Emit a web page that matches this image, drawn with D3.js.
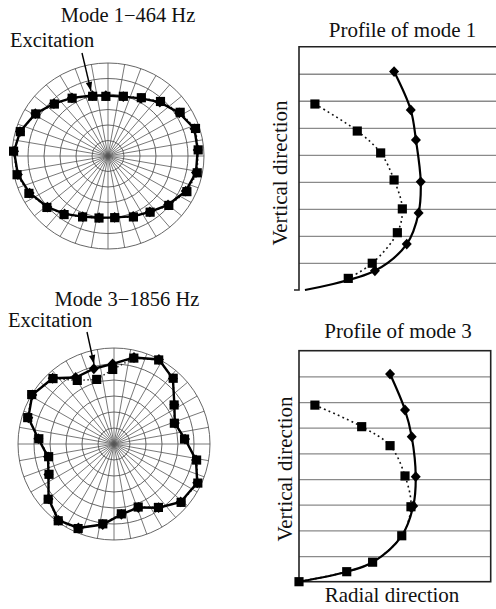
<!DOCTYPE html>
<html>
<head>
<meta charset="utf-8">
<script src="https://cdn.jsdelivr.net/npm/d3@7"></script>
<style>
  html, body { margin: 0; padding: 0; background: #fff; }
  svg { display: block; }
  text { font-family: "Liberation Serif", "Times New Roman", serif; fill: #111; }
</style>
</head>
<body>
<svg id="chart" width="496" height="609"></svg>
<script>
// ---- Ring shapes (angle in degrees, counter-clockwise from +x; radius in grid rings) ----
const mode1Angles   = [104, 92, 76, 61, 47, 32, 18, 4, -11, -25, -40, -54, -68, -84, -98, -112, -126, -139, -154, -168, 177, 164, 149, 135, 121];
const mode1Measured = [3.97, 3.85, 3.97, 4.30, 4.81, 5.32, 5.75, 5.65, 5.68, 5.44, 4.96, 4.48, 4.24, 4.00, 4.04, 4.24, 4.67, 5.06, 5.50, 5.81, 5.91, 5.70, 5.27, 4.74, 4.35];
const mode1Computed = [4.02, 3.90, 3.95, 4.25, 4.75, 5.25, 5.68, 5.62, 5.60, 5.36, 4.90, 4.45, 4.20, 3.98, 4.02, 4.22, 4.62, 5.02, 5.45, 5.76, 5.88, 5.72, 5.30, 4.78, 4.38];

const mode3Angles   = [105, 91, 77, 62, 48, 33, 19, 4, -11, -25, -41, -55, -69, -84, -98, -113, -126, -140, -155, -169, 176, 163, 149, 133, 120];
const mode3Measured = [4.18, 4.66, 5.51, 5.95, 5.53, 4.48, 3.99, 4.42, 5.26, 5.78, 5.56, 4.84, 4.22, 4.39, 5.04, 5.74, 5.93, 5.37, 4.48, 4.16, 4.71, 5.64, 6.00, 5.59, 4.59];
const mode3Computed = [4.87, 5.01, 5.55, 5.98, 5.50, 4.50, 4.02, 4.45, 5.22, 5.74, 5.52, 4.86, 4.25, 4.42, 5.08, 5.70, 5.90, 5.34, 4.52, 4.20, 4.74, 5.60, 5.96, 5.62, 4.80];

// ---- Vertical profiles (height level, radial amplitude) ----
const prof1SolidLevel  = [8.08, 6.66, 5.55, 4.00, 2.85, 1.70, 0.71, 0];
const prof1SolidRadial = [0.496, 0.583, 0.610, 0.635, 0.624, 0.562, 0.396, 0.031];
const prof1DotLevel    = [6.88, 5.88, 5.07, 4.07, 3.00, 2.12, 0.99, 0.43];
const prof1DotRadial   = [0.083, 0.304, 0.426, 0.496, 0.539, 0.513, 0.382, 0.257];

const prof3SolidLevel  = [8.09, 6.69, 5.65, 4.09, 2.95];
const prof3SolidRadial = [0.475, 0.553, 0.588, 0.609, 0.596];
const prof3DotLevel    = [6.88, 6.04, 5.30, 4.12, 2.92, 1.79, 0.76, 0.39, 0];
const prof3DotRadial   = [0.083, 0.327, 0.475, 0.553, 0.584, 0.536, 0.384, 0.249, 0];

const gridLevels = [1, 2, 3, 4, 5, 6, 7, 8];
const ringCount = 6;

const svg = d3.select("#chart");

// ---------- marker helpers ----------
const squareSym = d3.symbol().type(d3.symbolSquare).size(84);
// compact rhombus marker
const rhombus = { draw(ctx, size) { const h = Math.sqrt(size / 2); ctx.moveTo(0, -h * 1.08); ctx.lineTo(h, 0); ctx.lineTo(0, h * 1.08); ctx.lineTo(-h, 0); ctx.closePath(); } };
const diamondSym = d3.symbol().type(rhombus).size(50);

// ---------- polar ring plot ----------
function polarPlot(cfg) {
  const g = svg.append("g");
  const rx = d3.scaleLinear().domain([0, ringCount]).range([0, cfg.rx]);
  const ry = d3.scaleLinear().domain([0, ringCount]).range([0, cfg.ry]);
  const px = (deg, r) => cfg.cx + rx(r) * Math.cos(deg * Math.PI / 180);
  const py = (deg, r) => cfg.cy - ry(r) * Math.sin(deg * Math.PI / 180);

  // rings
  g.selectAll("ellipse.ring").data(d3.range(1, ringCount + 1)).join("ellipse")
    .attr("cx", cfg.cx).attr("cy", cfg.cy)
    .attr("rx", d => rx(d)).attr("ry", d => ry(d))
    .attr("fill", "none").attr("stroke", "#555").attr("stroke-width", 0.9);
  // spokes every 10 degrees
  g.selectAll("line.spoke").data(d3.range(0, 360, 10)).join("line")
    .attr("x1", cfg.cx).attr("y1", cfg.cy)
    .attr("x2", d => px(d, ringCount)).attr("y2", d => py(d, ringCount))
    .attr("stroke", "#555").attr("stroke-width", 0.8);

  const ptsA = cfg.angles.map((a, i) => ({ a, r: cfg.computed[i] }));
  const ptsB = cfg.angles.map((a, i) => ({ a, r: cfg.measured[i] }));
  const line = d3.line().x(d => px(d.a, d.r)).y(d => py(d.a, d.r)).curve(d3.curveLinearClosed);

  g.append("path").attr("d", line(ptsB)).attr("fill", "none")
    .attr("stroke", "#222").attr("stroke-width", 1.4).attr("stroke-dasharray", "1.5,2.5");
  g.append("path").attr("d", line(ptsA)).attr("fill", "none")
    .attr("stroke", "#000").attr("stroke-width", 2.4);

  g.selectAll("path.dia").data(ptsA).join("path")
    .attr("d", diamondSym)
    .attr("transform", d => `translate(${px(d.a, d.r)},${py(d.a, d.r)})`)
    .attr("fill", "#000");
  g.selectAll("path.sq").data(ptsB).join("path")
    .attr("d", squareSym)
    .attr("transform", d => `translate(${px(d.a, d.r)},${py(d.a, d.r)})`)
    .attr("fill", "#000");

  // titles
  svg.append("text").attr("x", cfg.titleX).attr("y", cfg.titleY)
    .attr("text-anchor", "middle").attr("font-size", 20.5).text(cfg.title);
  svg.append("text").attr("x", cfg.excX).attr("y", cfg.excY)
    .attr("font-size", 20.5).text("Excitation");

  // arrow to the excitation point
  const [x1, y1, x2, y2] = cfg.arrow;
  svg.append("line").attr("x1", x1).attr("y1", y1).attr("x2", x2).attr("y2", y2)
    .attr("stroke", "#000").attr("stroke-width", 1.4);
  const ang = Math.atan2(y2 - y1, x2 - x1);
  const hl = 9, hw = 3.2;
  const bx = x2 - hl * Math.cos(ang), by = y2 - hl * Math.sin(ang);
  svg.append("path")
    .attr("d", `M${x2},${y2}L${bx + hw * Math.sin(ang)},${by - hw * Math.cos(ang)}L${bx - hw * Math.sin(ang)},${by + hw * Math.cos(ang)}Z`)
    .attr("fill", "#000");
}

polarPlot({
  cx: 108, cy: 156, rx: 96, ry: 93,
  angles: mode1Angles, measured: mode1Measured, computed: mode1Computed,
  title: "Mode 1\u2212464 Hz", titleX: 128, titleY: 22,
  excX: 10, excY: 46.5, arrow: [82, 53, 91, 91]
});

polarPlot({
  cx: 114, cy: 444, rx: 96, ry: 96,
  angles: mode3Angles, measured: mode3Measured, computed: mode3Computed,
  title: "Mode 3\u22121856 Hz", titleX: 127, titleY: 306,
  excX: 8, excY: 327, arrow: [87, 332, 94, 364]
});

// ---------- vertical profile plot ----------
function profilePlot(cfg) {
  const g = svg.append("g");
  const x = d3.scaleLinear().domain([0, 1]).range([299, 490.7]);
  const y = d3.scaleLinear().domain([0, 9]).range([cfg.bottom, cfg.top]);

  // horizontal grid lines from an axis
  const grid = g.append("g").attr("transform", `translate(299,0)`)
    .call(d3.axisRight(y).tickValues(gridLevels).tickSize(cfg.gridRight - 299).tickFormat(""));
  grid.select(".domain").remove();
  grid.selectAll(".tick line").attr("stroke", "#8a8a8a").attr("stroke-width", 1.3);

  if (cfg.closed) {
    g.append("rect").attr("x", x(0)).attr("y", y(9))
      .attr("width", x(1) - x(0)).attr("height", y(0) - y(9))
      .attr("fill", "none").attr("stroke", "#222").attr("stroke-width", 1.6);
  } else {
    g.append("path")
      .attr("d", `M${cfg.gridRight},${y(9)}H${x(0)}V${y(0)}h-5`)
      .attr("fill", "none").attr("stroke", "#222").attr("stroke-width", 1.6);
  }

  const solid = cfg.solidLevel.map((l, i) => ({ l, v: cfg.solidRadial[i] }));
  const dots  = cfg.dotLevel.map((l, i) => ({ l, v: cfg.dotRadial[i] }));
  const curve = d3.line().x(d => x(d.v)).y(d => y(d.l)).curve(d3.curveCatmullRom.alpha(0.5));

  const solidPath = cfg.solidTail ? solid.concat(dots.filter(d => d.l < 2.5)) : solid;

  g.append("path").attr("d", curve(dots)).attr("fill", "none")
    .attr("stroke", "#111").attr("stroke-width", 1.6).attr("stroke-dasharray", "1.8,3.2");
  g.append("path").attr("d", curve(solidPath)).attr("fill", "none")
    .attr("stroke", "#000").attr("stroke-width", 2.2);

  g.selectAll("path.sq").data(dots).join("path")
    .attr("d", squareSym)
    .attr("transform", d => `translate(${x(d.v)},${y(d.l)})`).attr("fill", "#000");
  g.selectAll("path.dia").data(solid.filter(d => d.l > 0)).join("path")
    .attr("d", diamondSym)
    .attr("transform", d => `translate(${x(d.v)},${y(d.l)})`).attr("fill", "#000");

  svg.append("text").attr("x", cfg.titleX).attr("y", cfg.titleY)
    .attr("text-anchor", "middle").attr("font-size", 21).text(cfg.title);
  svg.append("text")
    .attr("transform", `translate(${cfg.vlabX},${cfg.vlabY}) rotate(-90)`)
    .attr("text-anchor", "middle").attr("font-size", 21).text("Vertical direction");
  if (cfg.xlabel) {
    svg.append("text").attr("x", 392).attr("y", 602)
      .attr("text-anchor", "middle").attr("font-size", 21).text(cfg.xlabel);
  }
}

profilePlot({
  top: 46.7, bottom: 290, gridRight: 496, closed: false,
  solidLevel: prof1SolidLevel, solidRadial: prof1SolidRadial,
  dotLevel: prof1DotLevel, dotRadial: prof1DotRadial, solidTail: false,
  title: "Profile of mode 1", titleX: 402.5, titleY: 37,
  vlabX: 286.5, vlabY: 173
});

profilePlot({
  top: 350.7, bottom: 581.7, gridRight: 490.7, closed: true,
  solidLevel: prof3SolidLevel, solidRadial: prof3SolidRadial,
  dotLevel: prof3DotLevel, dotRadial: prof3DotRadial, solidTail: true,
  title: "Profile of mode 3", titleX: 398, titleY: 338,
  vlabX: 291.5, vlabY: 469, xlabel: "Radial direction"
});
</script>
</body>
</html>
